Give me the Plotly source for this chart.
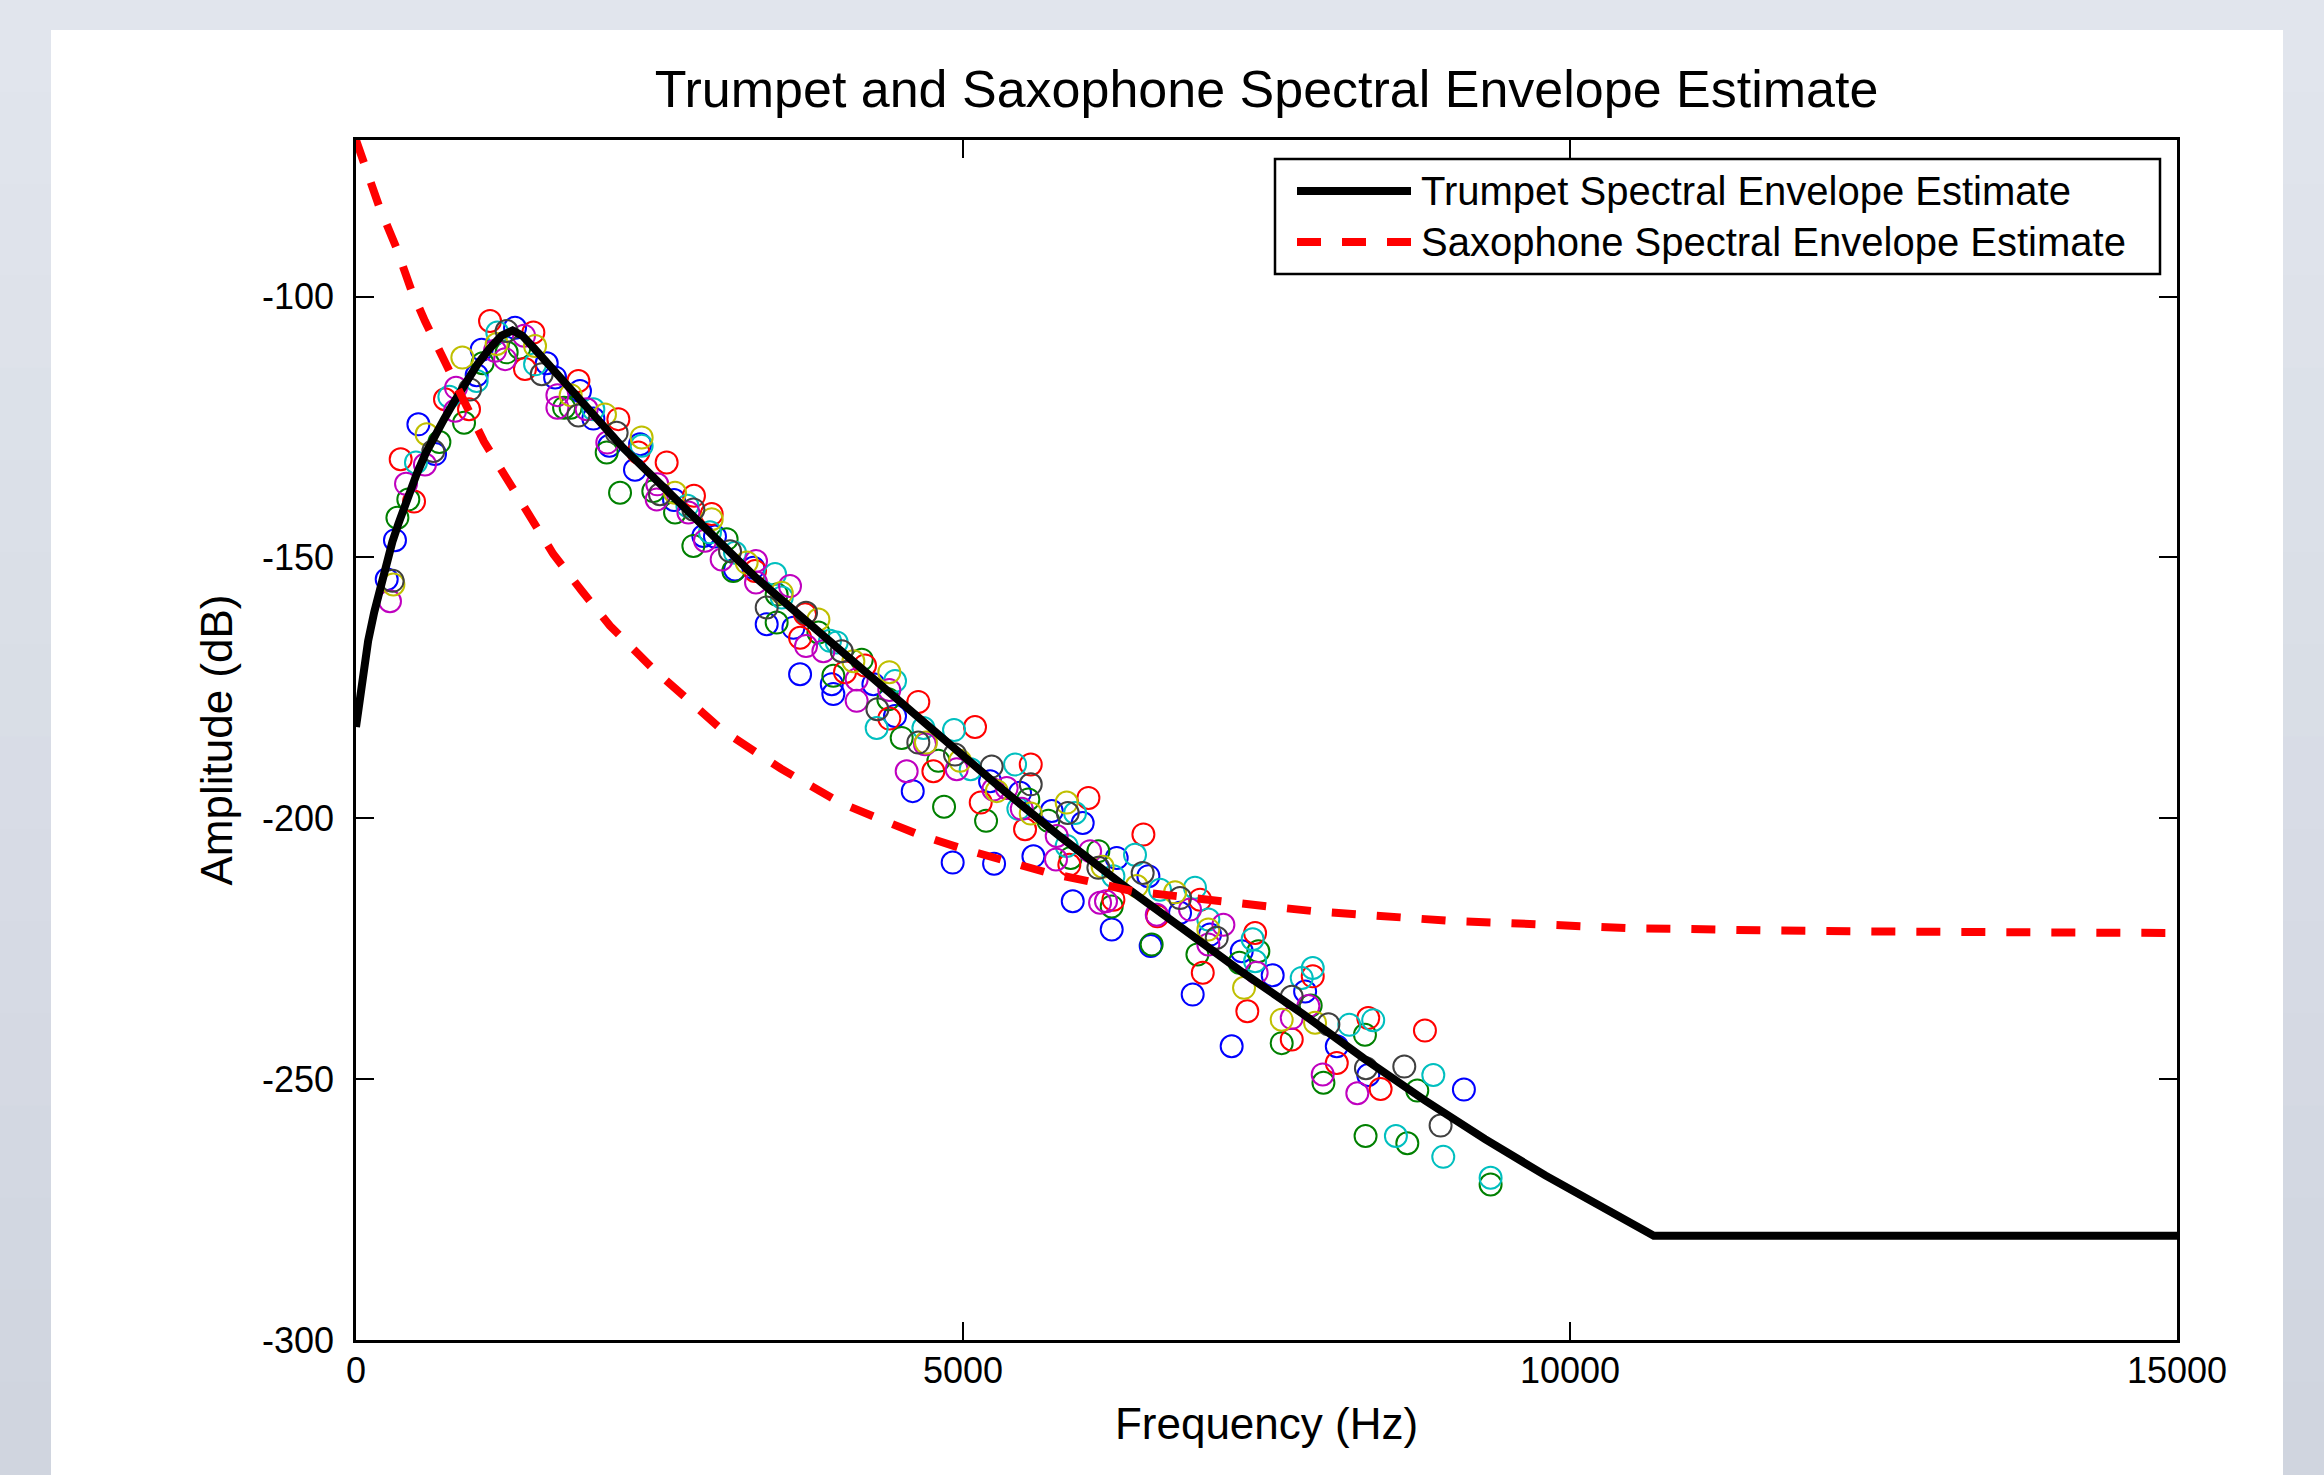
import plotly.graph_objects as go

# ---------------- data ----------------
trumpet_hz = [0, 25, 60, 100, 150, 200, 250, 300, 350, 400, 450, 500, 575, 650, 725, 800, 900,
              1000, 1100, 1200, 1290, 1370, 1450, 1575, 1700, 1850, 2000, 2200, 2400, 2800,
              3300, 3800, 4300, 4800, 5300, 5800, 6300, 6800, 7300, 7800, 8300, 8800, 9300,
              9800, 10250, 10690, 15000]
trumpet_db = [-182.5, -178, -172, -166, -160.5, -155.5, -151, -147, -143.5, -140, -137, -134,
              -130, -126.5, -123.5, -120.5, -116.5, -113, -110, -107.5, -106.5, -107.5, -109.5,
              -112.7, -116, -120, -124, -129, -133.5, -142.5, -154, -164, -174, -184.5, -194,
              -203.5, -212.5, -221, -229.5, -237.5, -246, -254, -261.5, -268.5, -274.5, -280, -280]

sax_hz = [0, 190, 330, 453, 568, 720, 900, 1054, 1241, 1433, 1626, 1859, 2092, 2449, 2724,
          3012, 3500, 3987, 4289, 4632, 4976, 5333, 5690, 6019, 6403, 6788, 7145, 7515,
          7886, 8245, 8624, 9028, 9399, 9777, 10140, 10519, 10898, 11252, 11606, 12500,
          13500, 15000]
sax_db = [-70, -82.7, -90.5, -98.6, -104.7, -112.3, -120.5, -127.8, -135.0, -142.1, -149.4,
          -156.4, -163.1, -171.4, -177.2, -183.0, -190.5, -197.0, -199.9, -203.1, -205.7,
          -208.2, -210.4, -212.0, -214.0, -215.0, -216.1, -216.9, -217.8, -218.5, -219.2,
          -219.7, -220.0, -220.4, -220.8, -221.1, -221.2, -221.4, -221.5, -221.7, -221.8, -222.0]

blue_hz = [253, 321, 514, 651, 994, 1035, 1310, 1571, 1640, 1845, 1955, 2087, 2298, 2340, 2620,
           2861, 2957, 3122, 3273, 3383, 3603, 3658, 3919, 3932, 4262, 4440, 4586, 4915, 5223,
           5256, 5470, 5580, 5731, 5904, 5986, 6225, 6266, 6527, 6546, 6788, 6892, 7035, 7213,
           7296, 7551, 7818, 8079, 8338, 9126]
blue_db = [-154.2, -146.7, -124.5, -130.2, -115.1, -110.2, -106.0, -112.8, -115.5, -118.1, -123.4,
           -128.6, -133.2, -128.3, -139.0, -145.9, -146.0, -152.3, -152.0, -162.8, -163.5, -172.4,
           -174.3, -176.2, -174.3, -180.4, -194.8, -208.5, -192.9, -208.7, -195.1, -207.3, -198.6,
           -215.9, -200.9, -221.3, -207.6, -211.1, -224.5, -218.1, -233.8, -222.3, -243.7, -225.5,
           -230.1, -233.2, -243.7, -249.2, -252.0]

green_hz = [341, 431, 687, 890, 1043, 1241, 1346, 1714, 1768, 2065, 2175, 2449, 2628, 2779, 3053,
            3108, 3465, 3465, 3809, 3932, 4166, 4385, 4495, 4797, 4844, 5190, 5538, 5703, 5887,
            6115, 6225, 6554, 6931, 7277, 7433, 7625, 7864, 7969, 8311, 8316, 8660, 8742, 9346]
green_db = [-142.4, -138.9, -127.9, -124.2, -112.8, -110.7, -109.8, -121.3, -121.3, -129.9, -137.6,
            -137.3, -141.4, -147.8, -146.5, -152.6, -157.1, -162.5, -164.4, -172.7, -169.6, -177.2,
            -184.6, -189.0, -197.8, -200.5, -196.4, -200.5, -207.6, -206.3, -216.9, -224.2, -226.1,
            -227.7, -225.5, -243.1, -235.9, -250.7, -241.5, -260.9, -262.3, -252.2, -270.2]

red_hz = [368, 478, 733, 931, 1104, 1392, 1461, 1832, 2161, 2326, 2559, 2784, 2930, 3287, 3658,
          3699, 4028, 4193, 4393, 4632, 4756, 5099, 5146, 5511, 5558, 5876, 6033, 6239, 6486,
          6601, 6953, 6975, 7342, 7406, 7708, 7881, 8079, 8338, 8440, 8805]
red_db = [-131.2, -139.3, -119.7, -121.6, -104.7, -113.9, -106.9, -116.2, -123.5, -129.9, -131.8,
          -138.2, -141.7, -152.6, -165.4, -160.9, -172.0, -170.7, -180.9, -177.7, -191.0, -182.5,
          -197.0, -202.1, -189.7, -208.9, -196.1, -215.6, -203.1, -218.8, -215.6, -229.6, -237.0,
          -222.0, -242.4, -230.3, -246.9, -238.3, -251.9, -240.7]

cyan_hz = [494, 769, 994, 1164, 1475, 1955, 2353, 2730, 2916, 3122, 3452, 3507, 3905, 3960, 4289,
           4440, 4674, 4926, 5063, 5429, 5456, 5854, 5923, 6239, 6417, 6623, 6911, 7021, 7386,
           7406, 7790, 7881, 8182, 8379, 8566, 8874, 8956, 9346]
cyan_db = [-131.8, -119.2, -116.2, -106.9, -113.0, -121.6, -128.6, -140.1, -145.2, -149.1, -153.2,
           -157.7, -166.0, -166.3, -182.7, -173.7, -182.7, -183.1, -190.6, -189.7, -198.2, -205.3,
           -199.0, -211.1, -207.0, -213.7, -213.3, -219.4, -223.2, -227.4, -230.6, -228.7, -239.6,
           -238.7, -260.9, -249.2, -264.9, -268.9]

magenta_hz = [280, 412, 568, 816, 824, 1145, 1228, 1384, 1659, 1659, 1900, 2070, 2477, 2482, 2738,
              2875, 3012, 3295, 3295, 3575, 3707, 3850, 4124, 4124, 4393, 4536, 4687, 4948, 5250,
              5360, 5484, 5766, 5772, 6047, 6129, 6178, 6596, 6870, 7021, 7145, 7419, 7708, 7845,
              7963, 8248]
magenta_db = [-158.4, -135.9, -132.2, -121.9, -117.5, -110.4, -112.0, -107.5, -118.9, -121.3, -121.6,
              -128.0, -138.9, -136.0, -141.4, -146.8, -150.4, -150.7, -154.8, -155.5, -167.0, -168.0,
              -177.5, -173.4, -175.4, -191.0, -185.8, -190.6, -194.5, -194.2, -198.2, -207.9, -203.4,
              -206.3, -216.2, -215.9, -218.5, -217.5, -224.2, -220.4, -229.6, -238.3, -236.0, -249.1,
              -252.7]

yellow_hz = [308, 582, 876, 1159, 1475, 1768, 2051, 2353, 2628, 2930, 3218, 3507, 3809, 4097, 4393,
             4695, 4976, 5278, 5558, 5854, 6150, 6431, 6747, 7021, 7315, 7625, 7900]
yellow_db = [-155.2, -126.4, -111.7, -109.1, -109.5, -118.9, -122.6, -127.0, -137.6, -142.7, -151.0,
             -156.8, -161.9, -169.9, -172.0, -185.5, -189.0, -194.8, -199.1, -197.0, -209.3, -213.0,
             -214.2, -221.3, -232.5, -238.6, -239.2]

gray_hz = [302, 637, 939, 1241, 1530, 1832, 2147, 2504, 2779, 3081, 3383, 3707, 4001, 4295, 4632,
           4934, 5236, 5558, 5863, 6115, 6480, 6788, 7090, 7708, 8010, 8319, 8635, 8934]
gray_db = [-154.5, -129.6, -117.8, -106.6, -114.9, -122.8, -126.1, -137.9, -140.8, -148.8, -159.6,
           -160.6, -168.0, -179.1, -185.5, -187.8, -190.1, -193.5, -199.0, -209.5, -210.5, -215.3,
           -222.9, -234.2, -239.5, -247.9, -247.6, -258.9]

x_tick_vals = [0, 5000, 10000, 15000]
x_tick_text = ["0", "5000", "10000", "15000"]
y_tick_vals = [-300, -250, -200, -150, -100]
y_tick_text = ["-300", "-250", "-200", "-150", "-100"]

series_names = ["Trumpet Spectral Envelope Estimate", "Saxophone Spectral Envelope Estimate"]

# ---------------- figure ----------------
W, H = 2324, 1475
L, R, T, B = 356, 147, 140, 135
PW, PH = W - L - R, H - T - B
FONT = "Liberation Sans, Arial, Helvetica, sans-serif"


def px(xp):
    return (xp - L) / PW


def py(yp):
    return (H - B - yp) / PH


fig = go.Figure()

scatter_sets = [
    (blue_hz, blue_db, "#0000ff"),
    (green_hz, green_db, "#008000"),
    (red_hz, red_db, "#ff0000"),
    (cyan_hz, cyan_db, "#00bfbf"),
    (magenta_hz, magenta_db, "#bf00bf"),
    (yellow_hz, yellow_db, "#bfbf00"),
    (gray_hz, gray_db, "#404040"),
]
for xs, ys, col in scatter_sets:
    fig.add_trace(go.Scatter(
        x=xs, y=ys, mode="markers", showlegend=False, hoverinfo="x+y",
        marker=dict(symbol="circle-open", size=22, color=col, line=dict(width=2, color=col)),
    ))

fig.add_trace(go.Scatter(x=trumpet_hz, y=trumpet_db, mode="lines", name=series_names[0],
                         showlegend=False, line=dict(color="#000000", width=8)))
fig.add_trace(go.Scatter(x=sax_hz, y=sax_db, mode="lines", name=series_names[1],
                         showlegend=False, line=dict(color="#ff0000", width=8, dash="24px,21px")))

shapes = []
# gradient-like page background
n_bands = 16
c_top = (0xe1, 0xe5, 0xed)
c_bot = (0xd0, 0xd5, 0xdf)
for i in range(n_bands):
    f = i / (n_bands - 1)
    c = tuple(round(c_top[k] + (c_bot[k] - c_top[k]) * f) for k in range(3))
    y0p = H * i / n_bands
    y1p = H * (i + 1) / n_bands + 1
    shapes.append(dict(type="rect", xref="paper", yref="paper", layer="below",
                       x0=px(-2), x1=px(W + 2), y0=py(y1p), y1=py(y0p - 1),
                       fillcolor="rgb(%d,%d,%d)" % c, line=dict(width=0)))
# white panel
shapes.append(dict(type="rect", xref="paper", yref="paper", layer="below",
                   x0=px(51), x1=px(2283), y0=py(H + 5), y1=py(30),
                   fillcolor="#ffffff", line=dict(width=0)))

# manual legend
shapes.append(dict(type="rect", xref="paper", yref="paper", layer="above",
                   x0=px(1275), x1=px(2160), y0=py(274), y1=py(159),
                   fillcolor="#ffffff", line=dict(color="#000000", width=2.5)))
shapes.append(dict(type="line", xref="paper", yref="paper", layer="above",
                   x0=px(1297), x1=px(1411), y0=py(191), y1=py(191),
                   line=dict(color="#000000", width=8)))
shapes.append(dict(type="line", xref="paper", yref="paper", layer="above",
                   x0=px(1297), x1=px(1411), y0=py(242), y1=py(242),
                   line=dict(color="#ff0000", width=8, dash="24px,21px")))

annotations = [
    dict(text=series_names[0], xref="paper", yref="paper", x=px(1419), y=py(191),
         xanchor="left", yanchor="middle", showarrow=False,
         font=dict(family=FONT, size=40, color="#000000")),
    dict(text=series_names[1], xref="paper", yref="paper", x=px(1419), y=py(242),
         xanchor="left", yanchor="middle", showarrow=False,
         font=dict(family=FONT, size=40, color="#000000")),
]

axis_common = dict(
    showgrid=False, zeroline=False, showline=True, linecolor="#000000", linewidth=2.5,
    mirror="ticks", ticks="inside", ticklen=18, tickwidth=1.5, tickcolor="#000000",
    tickfont=dict(family=FONT, size=36, color="#000000"),
)

fig.update_layout(
    width=W, height=H,
    margin=dict(l=L, r=R, t=T, b=B, pad=0),
    paper_bgcolor="#d9dee7",
    plot_bgcolor="#ffffff",
    font=dict(family=FONT, color="#000000"),
    title=dict(text="Trumpet and Saxophone Spectral Envelope Estimate",
               x=0.5, xref="paper", xanchor="center",
               y=1 - 89 / H, yref="container", yanchor="middle",
               font=dict(family=FONT, size=52, color="#000000")),
    xaxis=dict(range=[0, 15000], tickvals=x_tick_vals, ticktext=x_tick_text,
               title=dict(text="Frequency (Hz)", font=dict(family=FONT, size=44, color="#000000"),
                          standoff=19),
               ticklabelstandoff=-3, **axis_common),
    yaxis=dict(range=[-300, -70], tickvals=y_tick_vals, ticktext=y_tick_text,
               title=dict(text="Amplitude (dB)", font=dict(family=FONT, size=44, color="#000000"),
                          standoff=16),
               ticklabelstandoff=12, **axis_common),
    shapes=shapes,
    annotations=annotations,
    showlegend=False,
)

fig.write_html(
    "out.html",
    config={"displayModeBar": False},
    post_script="document.body.style.margin='0px';document.body.style.overflow='hidden';",
)
